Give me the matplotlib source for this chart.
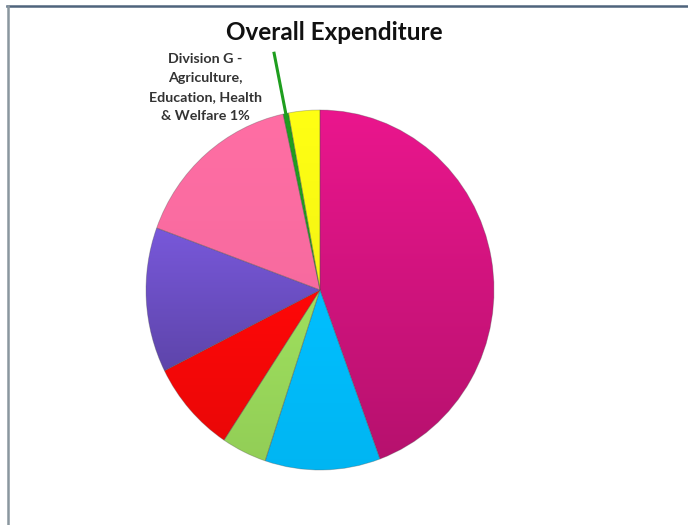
import matplotlib.pyplot as plt
import numpy as np
from matplotlib.colors import to_rgb
from matplotlib.lines import Line2D

# shares of overall expenditure, clockwise from 12 o'clock
shares = [44.4, 10.7, 4.2, 8.3, 13.0, 16.0, 0.5, 2.9]
colours = ["#EA168D", "#00BFFF", "#9FE05E", "#FF0808", "#7858DA", "#FF6EA4", "#1E9E1E", "#FFFF14"]
shade = [0.78, 0.95, 0.92, 0.92, 0.78, 0.97, 1.0, 0.96]   # bottom brightness of each slice
label_idx = 6
label_text = "Division G -\nAgriculture,\nEducation, Health\n& Welfare"
title = "Overall Expenditure"

fig = plt.figure(figsize=(6.88, 5.25), dpi=100)
fig.patch.set_facecolor("white")

# frame lines along the top and left edge
fig.add_artist(Line2D([7 / 688, 1], [1 - 6 / 525] * 2, color="#4F647C", lw=1.8))
fig.add_artist(Line2D([7.5 / 688] * 2, [0, 1 - 6 / 525], color="#8A979F", lw=1.8))

ax = fig.add_axes([146 / 688, 55 / 525, 348 / 688, 360 / 525])
wedges, _ = ax.pie(shares, colors=colours, startangle=90, counterclock=False,
                   wedgeprops=dict(edgecolor=(0.3, 0.3, 0.3, 0.35), linewidth=0.6))
ax.set_aspect("auto")
ax.axis("off")

# vertical shading inside each slice
for w, c, s in zip(wedges, colours, shade):
    ext = w.get_path().get_extents()
    ext = ext.transformed(w.get_patch_transform())
    grad = np.linspace(1.0, s, 128)[:, None, None] * np.array(to_rgb(c))
    im = ax.imshow(grad, extent=(ext.x0, ext.x1, ext.y0, ext.y1), aspect="auto",
                   interpolation="bilinear", zorder=w.get_zorder())
    im.set_clip_path(w)
    w.set_facecolor("none")
    w.set_zorder(w.get_zorder() + 0.1)
ax.set_xlim(-1, 1)
ax.set_ylim(-1, 1)

# leader for the small slice and its label
w = wedges[label_idx]
mid = np.deg2rad((w.theta1 + w.theta2) / 2)
r = np.array([0.95, 1.35])
ax.plot(r * np.cos(mid), r * np.sin(mid), color="#1E9E1E", lw=2.2,
        solid_capstyle="butt", clip_on=False, zorder=5)
pct = shares[label_idx] / sum(shares) * 100
ax.text(-0.66, 1.125, f"{label_text} {int(pct + 0.5)}%", ha="center", va="center",
        fontsize=10.3, fontweight="bold", family="Lato", color="#333333",
        linespacing=1.72)

fig.text(334 / 688, 1 - 33 / 525, title, ha="center", va="center",
         fontsize=17.5, fontweight="bold", family="Lato", color="#111111")

fig.savefig("out.png", dpi=100)
